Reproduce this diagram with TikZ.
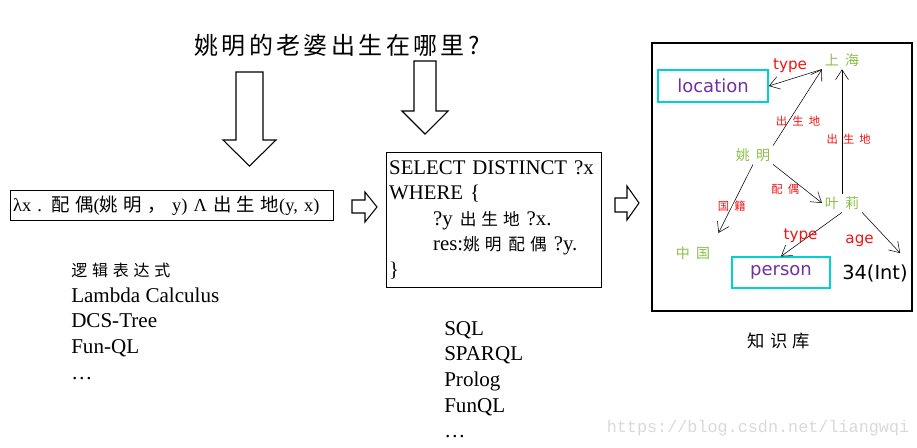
\documentclass[tikz,border=0pt]{standalone}
\usepackage{fontspec}
\setmainfont{Liberation Serif}
\newfontfamily\cjks[LetterSpace=30]{Noto Sans CJK SC}
\newfontfamily\cjkt[LetterSpace=14]{Noto Sans CJK SC}
\newfontfamily\cjkw[LetterSpace=45]{Noto Sans CJK SC}
\newfontfamily\graphfont{DejaVu Sans}
\newfontfamily\urlfont{Liberation Mono}
\usetikzlibrary{arrows.meta,positioning}
\definecolor{kbgreen}{RGB}{140,190,70}
\definecolor{kbred}{RGB}{240,20,20}
\definecolor{kbpurple}{RGB}{112,48,160}
\definecolor{kbcyan}{RGB}{0,210,210}
\tikzset{
  >={Straight Barb[length=2.6mm,width=3.4mm]},
  hollow/.style={draw, line width=0.8pt, line join=miter},
  frame/.style={
    draw, rectangle, line width=0.8pt, inner sep=2pt, align=left
  },
  txt/.style={
    align=left, anchor=north west, inner sep=0pt,
    font=\fontsize{15.8}{19.2}\selectfont
  },
  ent/.style={
    text=kbgreen, inner sep=2pt, font=\cjkw\fontsize{10.5}{12}\selectfont
  },
  cls/.style={
    draw=kbcyan, line width=1.2pt, text=kbpurple, inner sep=2pt,
    font=\graphfont\fontsize{13.5}{16}\selectfont
  },
  lbl/.style={
    text=kbred, inner sep=1pt, font=\graphfont\fontsize{11.4}{13}\selectfont
  },
  rel/.style={
    lbl, font=\cjkw\fontsize{8.5}{10}\selectfont
  },
}
\begin{document}
\begin{tikzpicture}[x=0.75pt,y=-0.75pt]
  \useasboundingbox (0,0) rectangle (917,447);

  % question
  \node (question) at (337,45) {\cjkt\fontsize{18}{20}\selectfont 姚明的老婆出生在哪里?};

  % block arrows
  \draw[hollow] (236,72) -- (263,72) -- (263,140) -- (276,140) -- (249.5,166)
    -- (223,140) -- (236,140) -- cycle;
  \draw[hollow] (414,61) -- (436,61) -- (436,111) -- (448,111) -- (425,134)
    -- (402,111) -- (414,111) -- cycle;
  \draw[hollow] (352,200) -- (365,200) -- (365,192) -- (377,207) -- (365,222)
    -- (365,213) -- (352,213) -- cycle;
  \draw[hollow] (615,198) -- (627,198) -- (627,186) -- (639,203) -- (627,220)
    -- (627,212) -- (615,212) -- cycle;

  % logical form
  \node[frame, anchor=north west, text width=238pt, minimum height=22.5pt,
    font=\fontsize{13.8}{16}\selectfont] (lambda) at (10,190)
    {λx . {\cjks 配偶}({\cjks 姚明，} y) Λ {\cjks 出生地}(y, x)};
  \node[txt] (forms) at (71,263) {{\cjks\fontsize{12}{14}\selectfont 逻辑表达式}\\
    Lambda Calculus\\DCS-Tree\\Fun-QL\\\ldots};

  % query
  \node[frame, anchor=north west, text width=157pt, minimum height=101pt,
    font=\fontsize{15.6}{19.2}\selectfont] (query) at (386,152)
    {SELECT DISTINCT ?x\\
    WHERE \{\\
    \hspace*{33pt}?y {\cjks\fontsize{12.5}{14}\selectfont 出生地} ?x.\\
    \hspace*{33pt}res:{\cjks\fontsize{12.5}{14}\selectfont 姚明} {\cjks\fontsize{12.5}{14}\selectfont 配偶} ?y.\\
    \}};
  \node[txt] (langs) at (444,321) {SQL\\SPARQL\\Prolog\\FunQL\\\ldots};

  % knowledge base
  \node[draw, line width=0.8pt, minimum width=195pt, minimum height=201pt] (kb) at (782,177) {};
  \node (kblabel) at (779,341) {\cjks\fontsize{13}{15}\selectfont 知识库};

  \node[ent] (sh) at (842,60) {上海};
  \node[cls, minimum width=82.5pt, minimum height=24pt] (loc) at (713,86) {location};
  \node[ent] (ym) at (753,155) {姚明};
  \node[ent] (yl) at (842,203) {叶莉};
  \node[ent] (zg) at (693,253) {中国};
  \node[cls, minimum width=73.5pt, minimum height=23pt] (per) at (781,272.5) {person};
  \node[font=\graphfont\fontsize{14.5}{16}\selectfont, inner sep=1pt] (age34) at (875,273) {34(Int)};

  \draw[->] (sh.south west) -- node[lbl, pos=.6, above=4pt] (t1) {type} (loc.east);
  \draw[->] (ym.north east) -- node[rel, pos=.32, xshift=7pt] (b1) {出生地} (sh.south west);
  \draw[->] (yl.north) -- node[rel, pos=.44, xshift=5pt] (b2) {出生地} (sh.south);
  \draw[->, shorten >=9pt] (ym.south) -- node[rel, pos=.53] (n1) {国籍} (zg.north east);
  \draw[->] (ym.south east) -- node[rel, pos=.25, below=6pt] (s1) {配偶} (yl.west);
  \draw[->] (yl.south) -- node[lbl, pos=.68, yshift=5pt] (t2) {type} (per.north);
  \draw[->, shorten >=10pt] (yl.south east) -- node[lbl, pos=.57, xshift=-22pt] (a1) {age} (age34.north east);

  % watermark
  \node[text=black!15, font=\urlfont\fontsize{12.6}{14}\selectfont] (mark) at (758,428)
    {https://blog.csdn.net/liangwqi};
\end{tikzpicture}
\end{document}
